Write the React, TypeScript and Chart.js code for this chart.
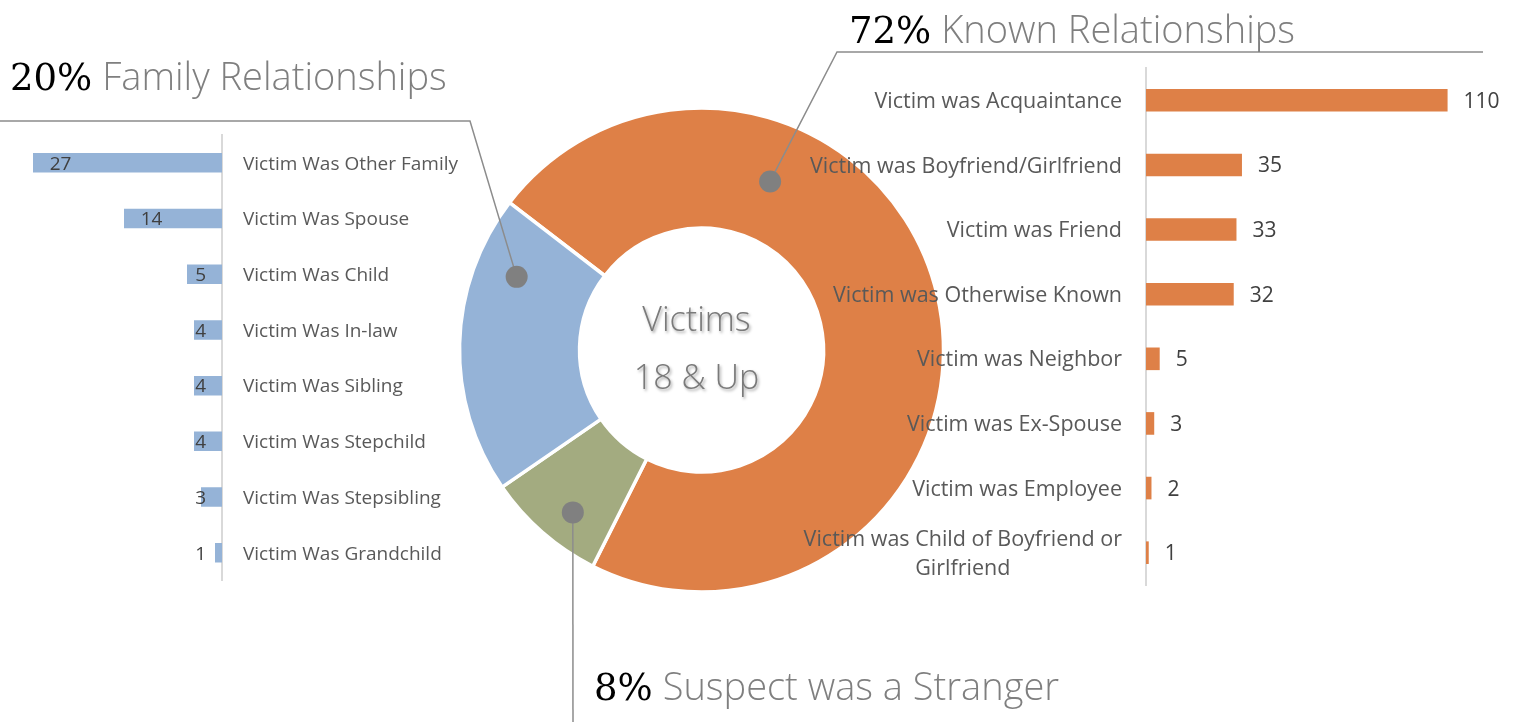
import { useEffect, useRef } from "react";
import { Chart, registerables } from "chart.js";

Chart.register(...registerables);

const W = 1519;
const H = 722;

// Share of adult victims by suspect relationship
const relationGroups = ["Known Relationships", "Suspect was a Stranger", "Family Relationships"];
const relationShares = [72, 8, 20];

// Breakdown of known (non-family) relationships
const knownCategories = [
  "Victim was Acquaintance",
  "Victim was Boyfriend/Girlfriend",
  "Victim was Friend",
  "Victim was Otherwise Known",
  "Victim was Neighbor",
  "Victim was Ex-Spouse",
  "Victim was Employee",
  ["Victim was Child of Boyfriend or", "Girlfriend"],
];
const knownCounts = [110, 35, 33, 32, 5, 3, 2, 1];

// Breakdown of family relationships
const familyCategories = [
  "Victim Was Other Family",
  "Victim Was Spouse",
  "Victim Was Child",
  "Victim Was In-law",
  "Victim Was Sibling",
  "Victim Was Stepchild",
  "Victim Was Stepsibling",
  "Victim Was Grandchild",
];
const familyCounts = [27, 14, 5, 4, 4, 4, 3, 1];

const centerLines = ["Victims", "18 & Up"];

const ORANGE = "#DE8047";
const GREEN = "#A3AB80";
const BLUE = "#95B3D7";
const groupColors = [ORANGE, GREEN, BLUE];

const SANS = '"Open Sans", "DejaVu Sans", sans-serif';
const SERIF = '"DejaVu Serif", serif';

// Callout styling per doughnut slice: where the dot sits inside the slice
// (fraction of the sweep, fraction of the ring thickness), the leader path,
// and where the heading text goes.
const callouts = [
  { frac: 0.288, ring: 0.5, path: [[837, 52], [1483, 52]], textX: 849, textY: 43 },
  { frac: 0.406, ring: 0.71, path: [[573, 730]], textX: 594, textY: 700 },
  { frac: 0.779, ring: 0.64, path: [[470, 121], [-10, 121]], textX: 10, textY: 90 },
];

const calloutPlugin = {
  id: "callouts",
  afterDatasetsDraw(chart: any) {
    const ctx: CanvasRenderingContext2D = chart.ctx;
    const meta = chart.getDatasetMeta(0);
    ctx.save();
    meta.data.forEach((arc: any, i: number) => {
      const p = arc.getProps(["x", "y", "startAngle", "endAngle", "innerRadius", "outerRadius"], true);
      const c = callouts[i];
      const a = p.startAngle + c.frac * (p.endAngle - p.startAngle);
      const r = p.innerRadius + c.ring * (p.outerRadius - p.innerRadius);
      const px = p.x + Math.cos(a) * r;
      const py = p.y + Math.sin(a) * r;

      ctx.strokeStyle = "#8c8c8c";
      ctx.lineWidth = 1.5;
      ctx.beginPath();
      ctx.moveTo(px, py);
      c.path.forEach(([qx, qy]) => ctx.lineTo(qx, qy));
      ctx.stroke();

      ctx.fillStyle = "#808080";
      ctx.beginPath();
      ctx.arc(px, py, 11, 0, Math.PI * 2);
      ctx.fill();

      const pct = `${chart.data.datasets[0].data[i]}%`;
      ctx.textAlign = "left";
      ctx.textBaseline = "alphabetic";
      ctx.font = `37px ${SERIF}`;
      ctx.fillStyle = "#000000";
      ctx.fillText(pct, c.textX, c.textY);
      const pw = ctx.measureText(pct).width;
      ctx.font = `300 38px ${SANS}`;
      ctx.fillStyle = "#7f7f7f";
      ctx.fillText(chart.data.labels[i], c.textX + pw + 10, c.textY);
    });

    // centre caption
    const cx = meta.data[0].x - 5;
    const cy = meta.data[0].y;
    ctx.font = `300 34px ${SANS}`;
    ctx.textAlign = "center";
    ctx.fillStyle = "#7a7a7a";
    ctx.shadowColor = "rgba(0,0,0,0.35)";
    ctx.shadowBlur = 3;
    ctx.shadowOffsetX = 1.5;
    ctx.shadowOffsetY = 2;
    ctx.fillText(centerLines[0], cx, cy - 19);
    ctx.fillText(centerLines[1], cx, cy + 39);
    ctx.restore();
  },
};

const barLabelPlugin = {
  id: "barLabels",
  afterDatasetsDraw(chart: any, _args: any, opts: any) {
    const ctx: CanvasRenderingContext2D = chart.ctx;
    const meta = chart.getDatasetMeta(0);
    const yScale = chart.scales.y;
    const area = chart.chartArea;
    const labels = chart.data.labels;
    const values = chart.data.datasets[0].data;
    ctx.save();
    ctx.textBaseline = "alphabetic";
    ctx.textAlign = "left";
    labels.forEach((lab: any, i: number) => {
      const cy = yScale.getPixelForValue(i);
      const lines: string[] = Array.isArray(lab) ? lab : [lab];
      ctx.font = `${opts.catSize}px ${SANS}`;
      ctx.fillStyle = "#595959";
      const widths = lines.map((l) => ctx.measureText(l).width);
      const widest = Math.max(...widths);
      const capHalf = (opts.catSize * 0.714) / 2;
      lines.forEach((l, k) => {
        const ly = cy + (k - (lines.length - 1) / 2) * opts.lineGap + capHalf;
        const blockLeft = opts.side === "left" ? area.left - opts.catPad - widest : area.right + opts.catPad;
        ctx.fillText(l, blockLeft + (widest - widths[k]) / 2, ly);
      });

      const bar = meta.data[i];
      const txt = String(values[i]);
      ctx.font = `${opts.valSize}px ${SANS}`;
      ctx.fillStyle = "#404040";
      const tw = ctx.measureText(txt).width;
      const vy = cy + (opts.valSize * 0.714) / 2;
      let vx;
      if (opts.side === "left") {
        vx = bar.x + opts.valPad;
      } else {
        vx = Math.min(bar.x + opts.valPad, area.right - 16 - tw);
      }
      ctx.fillText(txt, vx, vy);
    });
    ctx.restore();
  },
};

export default function App() {
  const donutRef = useRef<HTMLCanvasElement>(null);
  const familyRef = useRef<HTMLCanvasElement>(null);
  const knownRef = useRef<HTMLCanvasElement>(null);

  useEffect(() => {
    const common = {
      responsive: false,
      animation: false as const,
      events: [] as any[],
    };

    const donut = new Chart(donutRef.current!, {
      type: "doughnut",
      data: {
        labels: relationGroups,
        datasets: [
          {
            data: relationShares,
            backgroundColor: groupColors,
            borderColor: "#ffffff",
            borderWidth: 3.5,
            hoverOffset: 0,
          },
        ],
      },
      options: {
        ...common,
        rotation: -52.5,
        cutout: "50.4%",
        radius: 242,
        layout: { padding: { left: 461, right: 577, top: 109.5, bottom: 131.5 } },
        plugins: { legend: { display: false }, tooltip: { enabled: false } },
      } as any,
      plugins: [calloutPlugin],
    });

    const family = new Chart(familyRef.current!, {
      type: "bar",
      data: {
        labels: familyCategories,
        datasets: [
          {
            data: familyCounts,
            backgroundColor: BLUE,
            barPercentage: 0.35,
            categoryPercentage: 1,
          },
        ],
      },
      options: {
        ...common,
        indexAxis: "y",
        layout: { padding: { left: 12, right: W - 222, top: 135, bottom: H - 580.6 } },
        scales: {
          x: { display: false, reverse: true, min: 0, max: 30 },
          y: {
            position: "right",
            grid: { display: false, drawTicks: false },
            ticks: { display: false },
            border: { display: true, color: "#d9d9d9", width: 2 },
          },
        },
        plugins: {
          legend: { display: false },
          tooltip: { enabled: false },
          barLabels: { side: "right", catSize: 19, catPad: 21, valSize: 19, valPad: 16.7, lineGap: 28 },
        },
      } as any,
      plugins: [barLabelPlugin],
    });

    const known = new Chart(knownRef.current!, {
      type: "bar",
      data: {
        labels: knownCategories as any,
        datasets: [
          {
            data: knownCounts,
            backgroundColor: ORANGE,
            barPercentage: 0.35,
            categoryPercentage: 1,
          },
        ],
      },
      options: {
        ...common,
        indexAxis: "y",
        layout: { padding: { left: 1146, right: W - 1475, top: 68, bottom: H - 585 } },
        scales: {
          x: { display: false, min: 0, max: 120 },
          y: {
            position: "left",
            grid: { display: false, drawTicks: false },
            ticks: { display: false },
            border: { display: true, color: "#d9d9d9", width: 2 },
          },
        },
        plugins: {
          legend: { display: false },
          tooltip: { enabled: false },
          barLabels: { side: "left", catSize: 21.5, catPad: 24, valSize: 21, valPad: 16, lineGap: 29 },
        },
      } as any,
      plugins: [barLabelPlugin],
    });

    return () => {
      donut.destroy();
      family.destroy();
      known.destroy();
    };
  }, []);

  const layer: React.CSSProperties = { position: "absolute", left: 0, top: 0, width: W, height: H };

  return (
    <div style={{ position: "fixed", left: 0, top: 0, width: W, height: H, background: "#ffffff", overflow: "hidden" }}>
      <canvas ref={donutRef} width={W} height={H} style={layer} />
      <canvas ref={familyRef} width={W} height={H} style={layer} />
      <canvas ref={knownRef} width={W} height={H} style={layer} />
    </div>
  );
}
